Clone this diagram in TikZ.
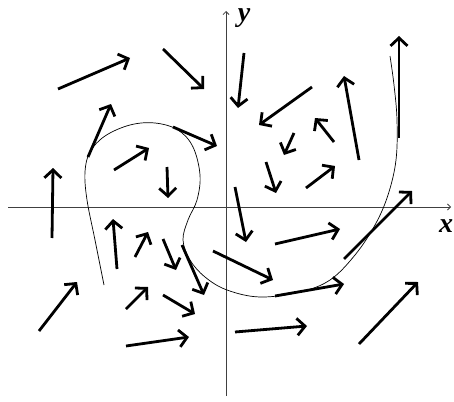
\documentclass[tikz,border=0pt]{standalone}
\usepackage{fontspec}
\setmainfont{Liberation Serif}
\usetikzlibrary{arrows.meta}
\begin{document}
\begin{tikzpicture}[x=1pt,y=-1pt,
  vec/.style={line width=2.8pt,-{Straight Barb[length=8pt,width=17pt,line width=2.8pt]}},
  axis/.style={line width=0.9pt,draw=black!75,-{Straight Barb[length=3pt,width=6pt,line width=0.8pt]}},
  orbit/.style={line width=0.7pt},
  lab/.style={font=\fontsize{28}{28}\selectfont\bfseries\itshape,inner sep=0pt}]
\useasboundingbox (0,0) rectangle (454,401);
% axes
\draw[axis] (8,207) -- (451,207);
\draw[axis] (226,396) -- (226,11);
\node[lab,anchor=base] (ylab) at (244,22) {y};
\node[lab,anchor=base] (xlab) at (446,232) {x};
% trajectory
\draw[orbit] plot[smooth,tension=0.6] coordinates {(104,285) (95,240) (87,200) (85,172) (90,152) (105,136) (130,125) (155,123) (178,130) (193,147) (200,175) (197,200) (188,220) (183,240) (190,260) (205,277) (227,290) (260,297) (300,292) (330,280) (355,255) (375,225) (388,195) (396,160) (397,120) (394,85) (390,56)};
% vectors
\draw[vec] (58,89) -- (130,58);
\draw[vec] (163,49) -- (204,89);
\draw[vec] (88,157) -- (111,104);
\draw[vec] (173,127) -- (217,146);
\draw[vec] (114,170) -- (149,148);
\draw[vec] (167,167) -- (168,198);
\draw[vec] (52,238) -- (53,168);
\draw[vec] (244,53) -- (238,108);
\draw[vec] (312,87) -- (259,125);
\draw[vec] (294,133) -- (284,155);
\draw[vec] (334,142) -- (315,118);
\draw[vec] (359,160) -- (344,76);
\draw[vec] (399,138) -- (399,36);
\draw[vec] (266,162) -- (276,193);
\draw[vec] (306,188) -- (335,166);
\draw[vec] (344,259) -- (412,191);
\draw[vec] (235,187) -- (246,242);
\draw[vec] (275,244) -- (340,229);
\draw[vec] (213,251) -- (273,280);
\draw[vec] (275,296) -- (344,284);
\draw[vec] (235,332) -- (307,326);
\draw[vec] (359,344) -- (418,282);
\draw[vec] (117,269) -- (113,219);
\draw[vec] (135,257) -- (148,232);
\draw[vec] (163,239) -- (176,270);
\draw[vec] (182,245) -- (204,295);
\draw[vec] (39,331) -- (77,282);
\draw[vec] (126,309) -- (148,287);
\draw[vec] (163,295) -- (195,314);
\draw[vec] (126,346) -- (189,337);
\end{tikzpicture}
\end{document}
